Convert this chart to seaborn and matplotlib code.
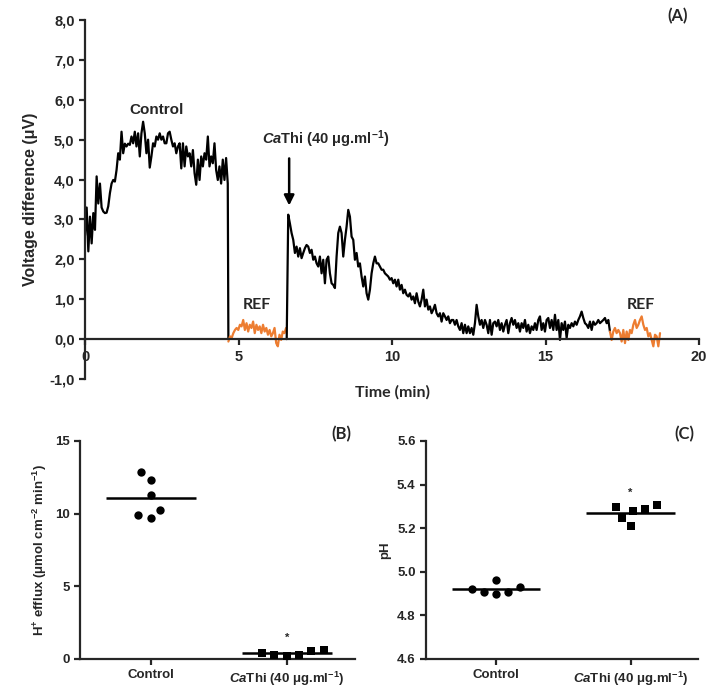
import numpy as np
import pandas as pd
import matplotlib
matplotlib.use("Agg")
import matplotlib.pyplot as plt
import seaborn as sns

# ---------------- data ----------------
# Panel A: voltage difference traces (µV), sampled uniformly between start/end times (min)
control_t = (0.0, 4.65)
control_v = [2.6, 3.3, 2.2, 3.07, 2.4, 3.16, 2.74, 4.08, 3.4, 3.9, 3.3, 3.2, 3.16, 3.17, 3.33,
             3.66, 3.9, 3.99, 3.95, 4.24, 4.66, 4.5, 5.2, 4.66, 4.9, 4.83, 4.9, 4.87, 5.08, 4.91,
             5.2, 4.83, 5.16, 4.58, 5.16, 5.45, 5.16, 4.66, 5.0, 4.3, 4.58, 4.91, 4.83, 5.08, 5.0,
             5.16, 5.0, 5.08, 4.91, 4.91, 5.16, 5.2, 5.0, 4.83, 4.91, 4.66, 4.83, 4.91, 4.28, 4.91,
             4.33, 4.83, 4.58, 4.66, 4.33, 4.74, 4.16, 3.87, 4.5, 3.99, 4.58, 4.33, 4.66, 4.5, 5.08,
             4.33, 4.58, 4.41, 4.91, 4.24, 3.99, 4.33, 3.9, 4.5, 3.99, 4.54, 3.9]
drop_t = 4.67
ref1_t = (4.67, 6.55)
ref1_v = [-0.06, 0.07, 0.03, 0.15, 0.23, 0.28, 0.23, 0.36, 0.32, 0.48, 0.23, 0.4, 0.19, 0.36,
          0.28, 0.44, 0.15, 0.36, 0.23, 0.32, 0.15, 0.36, 0.19, 0.28, 0.11, 0.23, 0.07, 0.15,
          0.28, -0.1, -0.18, 0.11, -0.02, 0.19, 0.15, 0.28]
rise_t = 6.57
cathi_t = (6.62, 17.10)
cathi_v = [3.12, 2.90, 2.66, 2.49, 2.16, 2.32, 2.07, 2.28, 2.03, 2.16, 2.28, 2.36, 2.32, 2.16,
           2.24, 1.99, 2.07, 1.90, 1.82, 2.07, 1.65, 1.99, 1.40, 1.99, 2.07, 1.65, 1.40, 1.36,
           1.28, 2.07, 2.66, 2.82, 2.66, 2.07, 2.49, 2.82, 3.24, 3.07, 2.57,
           2.49, 1.99, 2.16, 1.82, 1.90, 1.57, 1.32, 1.57, 1.15, 0.99, 1.24, 1.65, 1.90, 2.07,
           1.90, 1.90, 1.82, 1.74, 1.74, 1.65, 1.61, 1.57, 1.49, 1.53, 1.40, 1.49, 1.32, 1.49,
           1.24, 1.36, 1.15, 1.24, 1.11, 1.07, 1.15, 0.99, 1.07, 0.90, 1.15, 0.94, 0.82, 0.99,
           1.24, 0.82, 0.99, 0.74, 0.82, 0.65, 0.74, 0.86, 0.65, 0.57, 0.65, 0.44, 0.65, 0.57,
           0.48, 0.57, 0.40, 0.48, 0.48, 0.36, 0.48, 0.32, 0.23, 0.40, 0.15, 0.36, 0.15, 0.32,
           0.15, 0.28, 0.11, 0.40, 0.86, 0.57, 0.36, 0.48, 0.28, 0.48, 0.36, 0.15, 0.48, 0.11,
           0.40, 0.44, 0.32, 0.48, 0.23, 0.40, 0.19, 0.36, 0.48, 0.15, 0.40, 0.53, 0.36, 0.48,
           0.28, 0.40, 0.19, 0.40, 0.28, 0.48, 0.19, 0.36, 0.15, 0.32, 0.23, 0.40, 0.23, 0.48,
           0.57, 0.23, 0.40, 0.19, 0.48, 0.53, 0.28, 0.48, 0.23, 0.61, 0.23, 0.48, -0.02, 0.40,
           0.23, 0.44, 0.03, 0.36, 0.28, 0.40, 0.32, 0.44, 0.36, 0.48, 0.57, 0.69, 0.53, 0.40,
           0.36, 0.28, 0.44, 0.23, 0.44, 0.36, 0.40, 0.48, 0.40, 0.44, 0.48, 0.53, 0.40, 0.48,
           0.19]
ref2_t = (17.10, 18.73)
ref2_v = [0.19, -0.02, 0.19, 0.28, 0.15, 0.23, 0.15, -0.06, 0.23, -0.10, 0.19, -0.02, 0.23,
          0.15, 0.36, 0.48, 0.28, 0.36, 0.48, 0.57, 0.36, 0.23, 0.28, 0.07, 0.15, -0.02, -0.18,
          0.11, 0.07, -0.18, 0.15]

# Panels B and C
categories = ["Control", r"$\mathit{Ca}$Thi (40 μg.ml$^{-1}$)"]
efflux_control = [12.83, 12.33, 11.28, 10.25, 9.72, 9.88]
efflux_cathi = [0.53, 0.30, 0.18, 0.27, 0.43, 0.62]
ph_control = [4.932, 4.909, 4.963, 4.897, 4.905, 4.922]
ph_cathi = [5.307, 5.286, 5.208, 5.248, 5.277, 5.295]

# ---------------- style ----------------
sns.set_style("ticks")
plt.rcParams["font.family"] = ["Liberation Sans", "DejaVu Sans"]
plt.rcParams["font.weight"] = "bold"
plt.rcParams["mathtext.fontset"] = "custom"
plt.rcParams["mathtext.rm"] = "Liberation Sans:bold"
plt.rcParams["mathtext.it"] = "Liberation Sans:bold:italic"
plt.rcParams["mathtext.bf"] = "Liberation Sans:bold"
plt.rcParams["mathtext.default"] = "rm"

ORANGE = "#ED7D31"
fig = plt.figure(figsize=(7.09, 6.88), dpi=100)

# ---------------- Panel A ----------------
axA = fig.add_axes([0.1199, 0.4491, 0.8660, 0.5218])

def seg(tr, vals):
    return np.linspace(tr[0], tr[1], len(vals)), np.asarray(vals, float)

t_c, v_c = seg(control_t, control_v)
t_r1, v_r1 = seg(ref1_t, ref1_v)
t_ca, v_ca = seg(cathi_t, cathi_v)
t_r2, v_r2 = seg(ref2_t, ref2_v)

LW = 1.6
black1 = pd.DataFrame({"t": np.r_[t_c, drop_t], "v": np.r_[v_c, 0.0]})
black2 = pd.DataFrame({"t": np.r_[rise_t, t_ca], "v": np.r_[0.0, v_ca]})
sns.lineplot(data=black1, x="t", y="v", sort=False, estimator=None, color="black", lw=LW, ax=axA)
sns.lineplot(x=t_r1, y=v_r1, sort=False, estimator=None, color=ORANGE, lw=LW, ax=axA)
sns.lineplot(data=black2, x="t", y="v", sort=False, estimator=None, color="black", lw=LW, ax=axA)
sns.lineplot(x=t_r2, y=v_r2, sort=False, estimator=None, color=ORANGE, lw=LW, ax=axA)

axA.set_xlim(0, 20)
axA.set_ylim(-1, 8)
axA.spines["top"].set_visible(False)
axA.spines["right"].set_visible(False)
axA.spines["bottom"].set_position(("data", 0))
axA.spines["left"].set_linewidth(1.6)
axA.spines["bottom"].set_linewidth(1.6)
axA.set_yticks(np.arange(-1, 9, 1))
axA.set_yticklabels([f"{v:.1f}".replace(".", ",") for v in np.arange(-1, 9, 1)])
axA.set_xticks([0, 5, 10, 15, 20])
axA.set_xticklabels(["0", "5", "10", "15", "20"])
axA.tick_params(axis="both", labelsize=10.5, width=1.6, length=4, direction="out")
axA.set_xlabel("")
axA.set_ylabel("Voltage difference (μV)", fontsize=11.5, fontweight="bold", labelpad=8)
axA.text(0.5, -0.037, "Time (min)", transform=axA.transAxes, ha="center", va="center",
         fontsize=11.5, fontweight="bold", family=["Lato", "DejaVu Sans"])
axA.text(2.34, 5.74, "Control", ha="center", va="center", fontsize=11, fontweight="bold")
axA.text(7.85, 5.0, r"$\mathit{Ca}$Thi (40 μg.ml$^{-1}$)", ha="center", va="center",
         fontsize=10.5, fontweight="bold")
axA.annotate("", xy=(6.65, 3.28), xytext=(6.65, 4.6),
             arrowprops=dict(arrowstyle="-|>", lw=1.8, color="black", mutation_scale=15))
axA.text(5.6, 0.85, "REF", ha="center", va="center", fontsize=11.5, fontweight="bold",
         family=["Lato", "DejaVu Sans"])
axA.text(18.1, 0.85, "REF", ha="center", va="center", fontsize=11.5, fontweight="bold",
         family=["Lato", "DejaVu Sans"])
axA.text(19.3, 8.1, "(A)", ha="center", va="center", fontsize=12, fontweight="bold",
         family=["Lato", "DejaVu Sans"])

# ---------------- Panels B and C ----------------
SWARM_SIZE = 8.6   # used for the swarm spacing
SHOW_SIZE = 6.0    # displayed marker size

def dot_panel(ax, ctrl, treat, ylim, yticks, yfmt, ylabel, star_y, letter):
    ax.set_ylim(*ylim)
    sns.swarmplot(x=[categories[0]] * len(ctrl), y=ctrl, order=categories, marker="o",
                  color="black", size=SWARM_SIZE, ax=ax)
    sns.swarmplot(x=[categories[1]] * len(treat), y=treat, order=categories, marker="s",
                  color="black", size=SWARM_SIZE, ax=ax)
    for i, vals in enumerate([ctrl, treat]):
        ax.hlines(np.mean(vals), i - 0.33, i + 0.33, color="black", lw=1.8, zorder=1)
    ax.text(1.0, star_y, "*", ha="center", va="center", fontsize=8)
    ax.set_xlim(-0.52, 1.5)
    ax.set_ylim(*ylim)
    ax.set_yticks(yticks)
    ax.set_yticklabels([yfmt.format(v) for v in yticks])
    ax.set_xticks([0, 1])
    ax.set_xticklabels(categories)
    ax.spines["top"].set_visible(False)
    ax.spines["right"].set_visible(False)
    ax.spines["left"].set_linewidth(1.6)
    ax.spines["bottom"].set_linewidth(1.6)
    ax.tick_params(axis="both", labelsize=9.5, width=1.6, length=4, direction="out")
    ax.set_ylabel(ylabel, fontsize=9.5, fontweight="bold")
    ax.set_xlabel("")
    ax.text(0.95, 1.03, letter, transform=ax.transAxes, ha="center", va="center",
            fontsize=12, fontweight="bold", family=["Lato", "DejaVu Sans"])

axB = fig.add_axes([0.1128, 0.0422, 0.3879, 0.3169])
dot_panel(axB, efflux_control, efflux_cathi, (0, 15), [0, 5, 10, 15], "{:d}",
          r"H$^{+}$ efflux (μmol cm$^{-2}$ min$^{-1}$)", 1.44, "(B)")

axC = fig.add_axes([0.6008, 0.0422, 0.3836, 0.3169])
dot_panel(axC, ph_control, ph_cathi, (4.6, 5.6), [4.6, 4.8, 5.0, 5.2, 5.4, 5.6], "{:.1f}",
          "pH", 5.36, "(C)")

# let seaborn lay out the swarms, then freeze positions and shrink the markers
fig.canvas.draw()
for ax in (axB, axC):
    for coll in ax.collections:
        if "draw" in coll.__dict__:
            del coll.draw
            coll.set_sizes([SHOW_SIZE ** 2])

fig.savefig("out.png", dpi=100)
